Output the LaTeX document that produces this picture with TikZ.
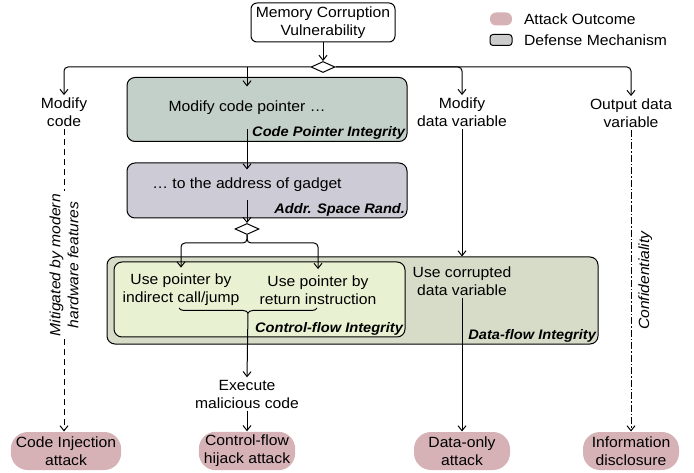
\documentclass[tikz,border=0pt]{standalone}
\usepackage{fontspec}
\setmainfont{Liberation Sans}[FakeStretch=1.06]
\usetikzlibrary{arrows.meta,positioning,shapes.geometric,decorations.pathreplacing,calc}

\definecolor{outcomefill}{HTML}{D6B2B7}
\definecolor{cpifill}{HTML}{C3CFC9}
\definecolor{aslrfill}{HTML}{CDCCD6}
\definecolor{dfifill}{HTML}{D6DCC8}
\definecolor{cfifill}{HTML}{E8F2D2}
\definecolor{keygray}{HTML}{CCCCCC}

\begin{document}
\begin{tikzpicture} [
        x=1pt, y=-1pt, line width=1pt,
        font=\fontsize{14.8}{18}\selectfont,
        >={Straight Barb[length=5pt,width=8pt]},
        txt/.style={align=center, inner sep=2pt},
        defense/.style={draw, rounded corners=8pt, line width=1pt},
        outcome/.style={fill=outcomefill, rounded corners=17pt, align=center,
            minimum width=96pt, minimum height=38pt, inner xsep=5pt},
        branch/.style={diamond, draw, fill=white, inner sep=0pt,
            minimum width=24pt, minimum height=11pt},
        tag/.style={font=\fontsize{13.8}{15}\selectfont\bfseries\itshape, inner sep=2pt},
        note/.style={font=\fontsize{14.8}{18}\selectfont\itshape, align=center},
        mitigated/.style={dash pattern=on 6pt off 4pt},
        leak/.style={dash pattern=on 7pt off 2pt on 1.5pt off 2pt}
    ]
    \useasboundingbox (0,0) rectangle (694,473);

    % defense mechanisms
    \node[defense, fill=cpifill,  minimum width=280pt, minimum height=64pt] (cpi)  at (267,109.5)   {};
    \node[defense, fill=aslrfill, minimum width=280pt, minimum height=55pt] (aslr) at (267,190.5)   {};
    \node[defense, fill=dfifill,  minimum width=491pt, minimum height=87pt] (dfi)  at (352.5,300.5) {};
    \node[defense, fill=cfifill,  minimum width=291pt, minimum height=75pt] (cfi)  at (259.5,299.5) {};

    \node[tag, anchor=south east] (cpitag)  at (cpi.south east)  {Code Pointer Integrity};
    \node[tag, anchor=south east] (aslrtag) at (aslr.south east) {Addr. Space Rand.};
    \node[tag, anchor=south east] (cfitag)  at (cfi.south east)  {Control-flow Integrity};
    \node[tag, anchor=south east] (dfitag)  at (dfi.south east)  {Data-flow Integrity};

    % steps of the attack
    \node[txt, draw, rounded corners=6pt, minimum width=144pt, minimum height=39pt]
                              (vuln)     at (323,22.5) {Memory Corruption\\Vulnerability};
    \node[branch]             (fork)     at (323,67)   {};
    \node[txt]                (modcode)  at (64,112)   {Modify\\code};
    \node[txt, minimum height=42pt] (ptr) at (247,108) {Modify code pointer …};
    \node[txt]                (moddata)  at (462,112)  {Modify\\data variable};
    \node[txt]                (outdata)  at (631,113)  {Output data\\variable};
    \node[txt, minimum height=30pt] (gadget) at (247,185) {… to the address of gadget};
    \node[branch]             (split)    at (247,229)  {};
    \node[txt, inner ysep=6pt] (indirect) at (181,290) {Use pointer by\\indirect call/jump};
    \node[txt, inner ysep=6pt] (ret)      at (318,290) {Use pointer by\\return instruction};
    \node[txt]                (usedata)  at (462,281)  {Use corrupted\\data variable};
    \node[txt]                (exec)     at (247,394)  {Execute\\malicious code};

    % outcomes
    \node[outcome] (inject)   at (66,451)  {Code Injection\\attack};
    \node[outcome] (hijack)   at (247,451) {Control-flow\\hijack attack};
    \node[outcome] (dataonly) at (462,451) {Data-only\\attack};
    \node[outcome] (disclose) at (631,451) {Information\\disclosure};

    % legend
    \node[fill=outcomefill, rounded corners=6pt, inner sep=0pt,
          minimum width=22pt, minimum height=13pt]          (keyout) at (501,19) {};
    \node[inner sep=0pt, right=11pt of keyout]               {Attack Outcome};
    \node[draw, fill=keygray, rounded corners=3pt, inner sep=0pt,
          minimum width=22pt, minimum height=11pt]          (keydef) at (501,40) {};
    \node[inner sep=0pt, right=11pt of keydef]               {Defense Mechanism};

    \coordinate (splitbar)  at ($(split.south)+(0,8)$);
    \coordinate (braceL)    at (179,308);
    \coordinate (braceR)    at (317,308);
    \coordinate (braceTip)  at (248,313);

    % vulnerability fans out
    \draw[->] (vuln) -- (fork);
    \draw[->, rounded corners=4pt] (fork.west) -| (modcode.north);
    \draw[->] (ptr.north |- fork) -- (ptr.north);
    \draw[->, rounded corners=4pt] (fork.east) -| (moddata.north);
    \draw[->, rounded corners=4pt] (fork.east) -| (outdata.north);

    % code pointer path
    \draw[->] (ptr.south) -- (gadget.north);
    \draw[->] (gadget.south) -- (split.north);
    \draw[->, rounded corners=4pt] (split.south) -- (splitbar) -| (indirect.north);
    \draw[->, rounded corners=4pt] (split.south) -- (splitbar) -| (ret.north);
    \draw[decorate, decoration={brace, mirror, amplitude=5pt}] (braceL) -- (braceR);
    \draw[->] (braceTip) -- (exec.north);
    \draw[->] (exec.south) -- (hijack.north);

    % data paths
    \draw[->] (moddata.south) -- (moddata.south |- dfi.north);
    \draw[->] (usedata.south) -- (usedata.south |- dataonly.north);
    \draw[->, mitigated] (modcode.south) --
        node[note, rotate=90, fill=white, pos=.45] {Mitigated by modern\\hardware features}
        (modcode.south |- inject.north);
    \draw[->, leak] (outdata.south) --
        node[note, rotate=90, anchor=north, pos=.5, inner sep=7pt] {Confidentiality}
        (outdata.south |- disclose.north);
\end{tikzpicture}
\end{document}
